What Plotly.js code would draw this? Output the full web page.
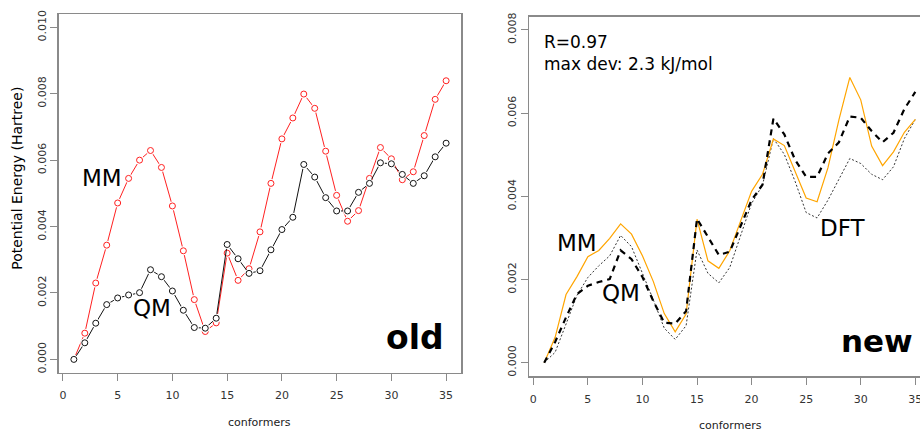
<!DOCTYPE html>
<html>
<head>
<meta charset="utf-8">
<script src="https://cdn.plot.ly/plotly-3.0.1.min.js"></script>
<style>
  html, body { margin: 0; padding: 0; background: #ffffff; }
  #chart { width: 920px; height: 431px; }
</style>
</head>
<body>
<div id="chart"></div>
<script>
// Conformer index along the scan
const conformers = [1, 2, 3, 4, 5, 6, 7, 8, 9, 10, 11, 12, 13, 14, 15, 16, 17, 18,
                    19, 20, 21, 22, 23, 24, 25, 26, 27, 28, 29, 30, 31, 32, 33, 34, 35];

// Relative potential energies (Hartree)
const qmEnergy = [0, 0.00050, 0.00109, 0.00165, 0.00185, 0.00194, 0.00201, 0.00270, 0.00249,
                  0.00206, 0.00148, 0.00096, 0.00094, 0.00124, 0.00346, 0.00303, 0.00259,
                  0.00267, 0.00330, 0.00391, 0.00428, 0.00587, 0.00549, 0.00487, 0.00447,
                  0.00447, 0.00503, 0.00530, 0.00592, 0.00589, 0.00557, 0.00530, 0.00553,
                  0.00610, 0.00651];

const mmOldEnergy = [0, 0.00079, 0.00230, 0.00344, 0.00471, 0.00545, 0.00600, 0.00629, 0.00578,
                     0.00462, 0.00327, 0.00180, 0.00084, 0.00110, 0.00320, 0.00238, 0.00273,
                     0.00384, 0.00530, 0.00664, 0.00727, 0.00799, 0.00756, 0.00627, 0.00494,
                     0.00416, 0.00448, 0.00545, 0.00638, 0.00604, 0.00541, 0.00565, 0.00674,
                     0.00783, 0.00839];

const mmNewEnergy = [0, 0.00061, 0.00164, 0.00207, 0.00255, 0.00270, 0.00299, 0.00334, 0.00309,
                     0.00257, 0.00195, 0.00118, 0.00074, 0.00117, 0.00345, 0.00245, 0.00227,
                     0.00269, 0.00341, 0.00412, 0.00453, 0.00538, 0.00522, 0.00458, 0.00396,
                     0.00387, 0.00469, 0.00584, 0.00686, 0.00632, 0.00521, 0.00474, 0.00507,
                     0.00554, 0.00585];

const dftEnergy = [0, 0.00025, 0.00093, 0.00162, 0.00205, 0.00233, 0.00257, 0.00306, 0.00279,
                   0.00217, 0.00151, 0.00083, 0.00056, 0.00089, 0.00271, 0.00215, 0.00192,
                   0.00229, 0.00307, 0.00383, 0.00427, 0.00539, 0.00501, 0.00435, 0.00361,
                   0.00348, 0.00391, 0.00441, 0.00491, 0.00479, 0.00453, 0.00440, 0.00471,
                   0.00539, 0.00585];

// Axis ticks
const xTicks = [0, 5, 10, 15, 20, 25, 30, 35];
const yTicksOld = [0, 0.002, 0.004, 0.006, 0.008, 0.010];
const yTicksNew = [0, 0.002, 0.004, 0.006, 0.008];

const FONT = "DejaVu Sans, Liberation Sans, sans-serif";
const AXIS_GREY = "#8a8a8a";

// Line through the points with a small gap around each circle, then the open circle
function pointSeries(y, color, xa, ya) {
  return [
    { x: conformers, y: y, xaxis: xa, yaxis: ya, type: "scatter", mode: "lines",
      line: { color: color, width: 1 }, hoverinfo: "skip" },
    { x: conformers, y: y, xaxis: xa, yaxis: ya, type: "scatter", mode: "markers",
      marker: { symbol: "circle", size: 9, color: "#ffffff", line: { width: 0 } },
      hoverinfo: "skip" },
    { x: conformers, y: y, xaxis: xa, yaxis: ya, type: "scatter", mode: "markers",
      marker: { symbol: "circle-open", size: 6, color: color, line: { width: 1, color: color } } }
  ];
}

const traces = [].concat(
  pointSeries(mmOldEnergy, "#ff2020", "x", "y"),
  pointSeries(qmEnergy, "#111111", "x", "y"),
  [
    { x: conformers, y: dftEnergy, xaxis: "x2", yaxis: "y2", type: "scatter", mode: "lines",
      line: { color: "#333333", width: 1, dash: "2px,2px" } },
    { x: conformers, y: mmNewEnergy, xaxis: "x2", yaxis: "y2", type: "scatter", mode: "lines",
      line: { color: "#ffa500", width: 1.2 } },
    { x: conformers, y: qmEnergy, xaxis: "x2", yaxis: "y2", type: "scatter", mode: "lines",
      line: { color: "#000000", width: 2.2, dash: "6px,5px" } }
  ]
);

function xAxis(domain, range, anchor) {
  return {
    domain: domain, range: range, anchor: anchor,
    tickmode: "array", tickvals: xTicks, ticktext: xTicks.map(String),
    ticks: "outside", ticklen: 7, tickwidth: 1, tickcolor: AXIS_GREY,
    ticklabelstandoff: 5, ticklabeloverflow: "allow",
    showline: true, linecolor: AXIS_GREY, linewidth: 1.5, mirror: true,
    showgrid: false, zeroline: false,
    tickfont: { family: FONT, size: 11, color: "#333333" }
  };
}

function yAxis(domain, range, ticks, anchor, mirror) {
  return {
    domain: domain, range: range, anchor: anchor,
    tickmode: "array", tickvals: ticks, tickformat: ".3f",
    tickangle: -90,
    ticks: "outside", ticklen: 7, tickwidth: 1, tickcolor: AXIS_GREY,
    showline: true, linecolor: AXIS_GREY, linewidth: 1.5, mirror: mirror,
    showgrid: false, zeroline: false,
    tickfont: { family: FONT, size: 11, color: "#333333" }
  };
}

const labelFont = { family: FONT, size: 23, color: "#000000" };

const layout = {
  width: 920, height: 431,
  margin: { l: 0, r: 0, t: 0, b: 0 },
  paper_bgcolor: "#ffffff", plot_bgcolor: "#ffffff",
  showlegend: false,
  xaxis: xAxis([0.0641, 0.5011], [-0.36, 36.36], "y"),
  yaxis: yAxis([0.1353, 0.9675], [-0.0004, 0.0104], yTicksOld, "x", true),
  xaxis2: xAxis([0.5754, 1], [-0.36, 35.43], "y2"),
  yaxis2: yAxis([0.1276, 0.9613], [-0.00032, 0.00832], yTicksNew, "x2", false),
  annotations: [
    // axis titles
    { xref: "paper", yref: "paper", x: 17.5 / 920, y: 1 - 178.3 / 431, textangle: -90,
      text: "Potential Energy (Hartree)", showarrow: false, xanchor: "center", yanchor: "middle",
      font: { family: FONT, size: 14, color: "#000000" } },
    { xref: "paper", yref: "paper", x: 259.3 / 920, y: 1 - 422.5 / 431,
      text: "conformers", showarrow: false, xanchor: "center", yanchor: "middle",
      font: { family: FONT, size: 11, color: "#222222" } },
    { xref: "paper", yref: "paper", x: 730 / 920, y: 1 - 425.3 / 431,
      text: "conformers", showarrow: false, xanchor: "center", yanchor: "middle",
      font: { family: FONT, size: 11, color: "#222222" } },
    // series labels, left panel
    { xref: "x", yref: "y", x: 3.6, y: 0.00546, text: "MM", showarrow: false,
      xanchor: "center", yanchor: "middle", font: labelFont },
    { xref: "x", yref: "y", x: 8.12, y: 0.00154, text: "QM", showarrow: false,
      xanchor: "center", yanchor: "middle", font: labelFont },
    { xref: "x", yref: "y", x: 32.17, y: 0.00065, text: "<b>old</b>", showarrow: false,
      xanchor: "center", yanchor: "middle", font: { family: FONT, size: 33, color: "#000000" } },
    // series labels, right panel
    { xref: "x2", yref: "y2", x: 3.98, y: 0.00289, text: "MM", showarrow: false,
      xanchor: "center", yanchor: "middle", font: labelFont },
    { xref: "x2", yref: "y2", x: 8.02, y: 0.00167, text: "QM", showarrow: false,
      xanchor: "center", yanchor: "middle", font: labelFont },
    { xref: "x2", yref: "y2", x: 28.38, y: 0.00324, text: "DFT", showarrow: false,
      xanchor: "center", yanchor: "middle", font: labelFont },
    { xref: "x2", yref: "y2", x: 34.95, y: 0.00052, text: "<b>new</b>", showarrow: false,
      xanchor: "right", yanchor: "middle", font: { family: FONT, size: 31, color: "#000000" } },
    // fit statistics
    { xref: "paper", yref: "paper", x: 542 / 920, y: 1 - 30 / 431,
      text: "R=0.97<br>max dev: 2.3 kJ/mol", showarrow: false, align: "left",
      xanchor: "left", yanchor: "top", font: { family: FONT, size: 17, color: "#000000" } }
  ]
};

Plotly.newPlot("chart", traces, layout, { displayModeBar: false, staticPlot: true });
</script>
</body>
</html>
